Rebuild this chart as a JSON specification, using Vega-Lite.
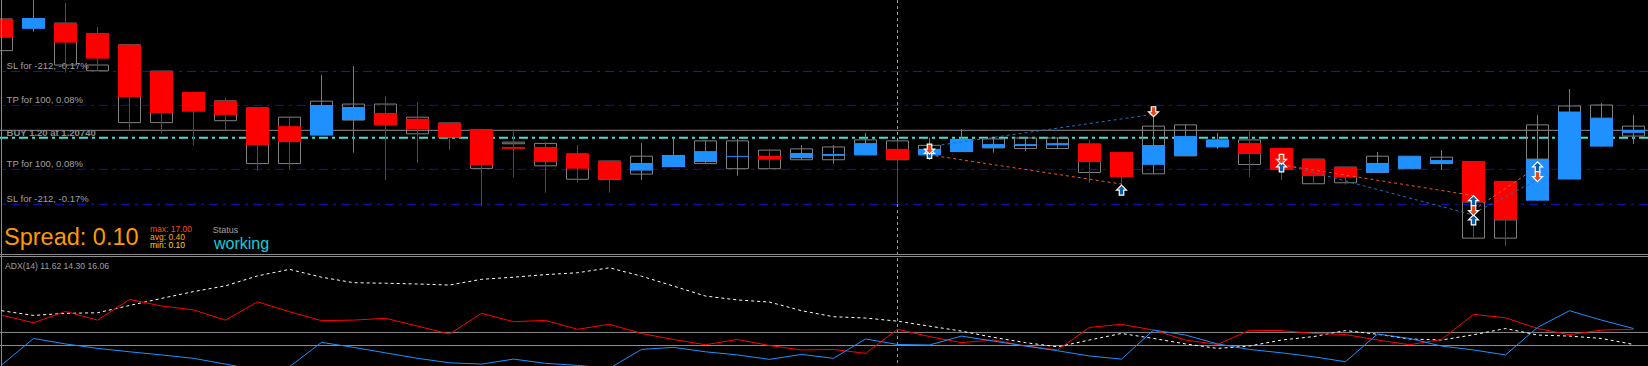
{
"$schema": "https://vega.github.io/schema/vega-lite/v6.json",
"width": 1648, "height": 366, "padding": 0,
"autosize": {"type": "none"},
"background": "#000000",
"config": {"view": {"stroke": null}, "axis": {"disable": true}, "scale": {"continuousPadding": 0}, "text": {"font": "Liberation Sans"}},
"datasets": {
"candles": [
{"i":0,"dir":"down","o":1.21088,"h":1.21088,"l":1.21029,"c":1.21029,"gt":1.21088,"gb":1.20989},
{"i":1,"dir":"up","o":1.21057,"h":1.21157,"l":1.21048,"c":1.21091,"gt":null,"gb":null},
{"i":2,"dir":"down","o":1.21075,"h":1.21138,"l":1.20920,"c":1.21014,"gt":1.21075,"gb":1.20944},
{"i":3,"dir":"down","o":1.21044,"h":1.21063,"l":1.20926,"c":1.20964,"gt":1.20944,"gb":1.20926},
{"i":4,"dir":"down","o":1.21007,"h":1.21007,"l":1.20741,"c":1.20844,"gt":1.21007,"gb":1.20764},
{"i":5,"dir":"down","o":1.20925,"h":1.20925,"l":1.20729,"c":1.20794,"gt":1.20925,"gb":1.20764},
{"i":6,"dir":"down","o":1.20860,"h":1.20860,"l":1.20692,"c":1.20798,"gt":null,"gb":null},
{"i":7,"dir":"down","o":1.20832,"h":1.20841,"l":1.20741,"c":1.20788,"gt":1.20832,"gb":1.20770},
{"i":8,"dir":"down","o":1.20810,"h":1.20810,"l":1.20614,"c":1.20694,"gt":1.20810,"gb":1.20636},
{"i":9,"dir":"down","o":1.20753,"h":1.20781,"l":1.20619,"c":1.20703,"gt":1.20781,"gb":1.20636},
{"i":10,"dir":"up","o":1.20725,"h":1.20913,"l":1.20725,"c":1.20819,"gt":1.20831,"gb":1.20725},
{"i":11,"dir":"up","o":1.20772,"h":1.20941,"l":1.20670,"c":1.20813,"gt":1.20822,"gb":1.20772},
{"i":12,"dir":"down","o":1.20794,"h":1.20847,"l":1.20585,"c":1.20757,"gt":1.20822,"gb":1.20757},
{"i":13,"dir":"down","o":1.20776,"h":1.20828,"l":1.20638,"c":1.20743,"gt":1.20781,"gb":1.20729},
{"i":14,"dir":"down","o":1.20763,"h":1.20763,"l":1.20679,"c":1.20718,"gt":1.20763,"gb":1.20718},
{"i":15,"dir":"down","o":1.20741,"h":1.20741,"l":1.20504,"c":1.20631,"gt":1.20741,"gb":1.20621},
{"i":16,"dir":"down","o":1.20688,"h":1.20744,"l":1.20592,"c":1.20682,"gt":1.20703,"gb":1.20698},
{"i":17,"dir":"down","o":1.20688,"h":1.20703,"l":1.20545,"c":1.20641,"gt":1.20699,"gb":1.20629},
{"i":18,"dir":"down","o":1.20666,"h":1.20694,"l":1.20576,"c":1.20620,"gt":1.20666,"gb":1.20587},
{"i":19,"dir":"down","o":1.20644,"h":1.20644,"l":1.20545,"c":1.20587,"gt":1.20644,"gb":1.20587},
{"i":20,"dir":"up","o":1.20614,"h":1.20700,"l":1.20585,"c":1.20638,"gt":1.20659,"gb":1.20603},
{"i":21,"dir":"up","o":1.20625,"h":1.20717,"l":1.20625,"c":1.20663,"gt":null,"gb":null},
{"i":22,"dir":"up","o":1.20641,"h":1.20707,"l":1.20638,"c":1.20675,"gt":1.20707,"gb":1.20636},
{"i":23,"dir":"up","o":1.20657,"h":1.20713,"l":1.20598,"c":1.20660,"gt":1.20707,"gb":1.20620},
{"i":24,"dir":"down","o":1.20660,"h":1.20682,"l":1.20620,"c":1.20648,"gt":1.20678,"gb":1.20620},
{"i":25,"dir":"up","o":1.20653,"h":1.20694,"l":1.20649,"c":1.20669,"gt":1.20682,"gb":1.20648},
{"i":26,"dir":"up","o":1.20660,"h":1.20694,"l":1.20636,"c":1.20666,"gt":1.20688,"gb":1.20648},
{"i":27,"dir":"up","o":1.20663,"h":1.20732,"l":1.20663,"c":1.20700,"gt":1.20710,"gb":1.20663},
{"i":28,"dir":"down","o":1.20682,"h":1.20707,"l":1.20512,"c":1.20648,"gt":1.20707,"gb":1.20648},
{"i":29,"dir":"up","o":1.20663,"h":1.20717,"l":1.20647,"c":1.20682,"gt":1.20693,"gb":1.20663},
{"i":30,"dir":"up","o":1.20672,"h":1.20744,"l":1.20672,"c":1.20713,"gt":null,"gb":null},
{"i":31,"dir":"up","o":1.20685,"h":1.20716,"l":1.20670,"c":1.20697,"gt":1.20713,"gb":1.20685},
{"i":32,"dir":"up","o":1.20691,"h":1.20716,"l":1.20676,"c":1.20697,"gt":1.20716,"gb":1.20683},
{"i":33,"dir":"up","o":1.20693,"h":1.20718,"l":1.20683,"c":1.20700,"gt":1.20716,"gb":1.20683},
{"i":34,"dir":"down","o":1.20697,"h":1.20710,"l":1.20576,"c":1.20641,"gt":1.20697,"gb":1.20608},
{"i":35,"dir":"down","o":1.20672,"h":1.20672,"l":1.20564,"c":1.20594,"gt":null,"gb":null},
{"i":36,"dir":"up","o":1.20632,"h":1.20785,"l":1.20604,"c":1.20694,"gt":1.20753,"gb":1.20604},
{"i":37,"dir":"up","o":1.20660,"h":1.20757,"l":1.20660,"c":1.20722,"gt":1.20757,"gb":1.20660},
{"i":38,"dir":"up","o":1.20688,"h":1.20732,"l":1.20682,"c":1.20710,"gt":1.20710,"gb":1.20688},
{"i":39,"dir":"down","o":1.20700,"h":1.20741,"l":1.20594,"c":1.20666,"gt":1.20710,"gb":1.20633},
{"i":40,"dir":"down","o":1.20685,"h":1.20685,"l":1.20585,"c":1.20616,"gt":null,"gb":null},
{"i":41,"dir":"down","o":1.20650,"h":1.20650,"l":1.20573,"c":1.20597,"gt":1.20650,"gb":1.20573},
{"i":42,"dir":"down","o":1.20625,"h":1.20625,"l":1.20570,"c":1.20592,"gt":1.20625,"gb":1.20576},
{"i":43,"dir":"up","o":1.20608,"h":1.20672,"l":1.20608,"c":1.20638,"gt":1.20659,"gb":1.20608},
{"i":44,"dir":"up","o":1.20620,"h":1.20659,"l":1.20620,"c":1.20659,"gt":1.20659,"gb":1.20620},
{"i":45,"dir":"up","o":1.20636,"h":1.20678,"l":1.20616,"c":1.20647,"gt":1.20656,"gb":1.20636},
{"i":46,"dir":"down","o":1.20644,"h":1.20644,"l":1.20403,"c":1.20516,"gt":1.20516,"gb":1.20403},
{"i":47,"dir":"down","o":1.20582,"h":1.20582,"l":1.20379,"c":1.20460,"gt":1.20460,"gb":1.20403},
{"i":48,"dir":"up","o":1.20520,"h":1.20788,"l":1.20520,"c":1.20650,"gt":1.20757,"gb":1.20650},
{"i":49,"dir":"up","o":1.20586,"h":1.20869,"l":1.20586,"c":1.20797,"gt":1.20816,"gb":1.20797},
{"i":50,"dir":"up","o":1.20689,"h":1.20825,"l":1.20689,"c":1.20778,"gt":1.20819,"gb":1.20778},
{"i":51,"dir":"up","o":1.20732,"h":1.20788,"l":1.20697,"c":1.20741,"gt":1.20753,"gb":1.20722}
],
"adx": [
{"i":0,"w":23.3,"r":21.6,"b":2.5},{"i":1,"w":21.5,"r":18.7,"b":12.7},{"i":2,"w":22.3,"r":23.0,"b":10.6},
{"i":3,"w":22.5,"r":19.7,"b":8.9},{"i":4,"w":25.3,"r":27.6,"b":7.6},{"i":5,"w":28.0,"r":25.1,"b":6.4},
{"i":6,"w":30.6,"r":23.6,"b":5.1},{"i":7,"w":32.8,"r":19.7,"b":2.9},{"i":8,"w":36.6,"r":26.7,"b":0.6},
{"i":9,"w":39.1,"r":22.9,"b":1.9},{"i":10,"w":36.1,"r":19.5,"b":11.2},{"i":11,"w":34.0,"r":19.7,"b":9.3},
{"i":12,"w":33.8,"r":20.4,"b":7.2},{"i":13,"w":33.5,"r":17.4,"b":5.1},{"i":14,"w":33.1,"r":14.4,"b":3.4},
{"i":15,"w":35.3,"r":22.3,"b":2.9},{"i":16,"w":36.1,"r":19.1,"b":4.8},{"i":17,"w":37.1,"r":19.6,"b":3.2},
{"i":18,"w":37.8,"r":16.2,"b":2.4},{"i":19,"w":39.7,"r":18.1,"b":1.3},{"i":20,"w":36.5,"r":14.6,"b":8.5},
{"i":21,"w":32.7,"r":12.3,"b":9.3},{"i":22,"w":28.9,"r":10.3,"b":7.6},{"i":23,"w":27.4,"r":12.3,"b":6.4},
{"i":24,"w":26.6,"r":10.0,"b":4.7},{"i":25,"w":23.3,"r":8.3,"b":6.6},{"i":26,"w":21.0,"r":8.5,"b":5.1},
{"i":27,"w":20.5,"r":7.0,"b":12.5},{"i":28,"w":19.3,"r":16.2,"b":10.4},{"i":29,"w":17.4,"r":13.4,"b":10.2},
{"i":30,"w":15.5,"r":11.1,"b":13.6},{"i":31,"w":13.1,"r":12.1,"b":11.7},{"i":32,"w":11.1,"r":9.8,"b":9.8},
{"i":33,"w":9.5,"r":8.3,"b":8.0},{"i":34,"w":12.1,"r":16.9,"b":6.0},{"i":35,"w":14.6,"r":18.1,"b":4.8},
{"i":36,"w":12.7,"r":15.9,"b":15.9},{"i":37,"w":10.6,"r":12.1,"b":14.0},{"i":38,"w":8.9,"r":10.4,"b":10.6},
{"i":39,"w":9.8,"r":15.8,"b":8.5},{"i":40,"w":12.1,"r":15.7,"b":7.2},{"i":41,"w":13.4,"r":14.6,"b":5.7},
{"i":42,"w":15.7,"r":14.2,"b":3.8},{"i":43,"w":14.3,"r":12.1,"b":14.4},{"i":44,"w":12.5,"r":10.3,"b":12.7},
{"i":45,"w":12.1,"r":12.3,"b":9.8},{"i":46,"w":14.1,"r":21.9,"b":8.3},{"i":47,"w":16.5,"r":20.6,"b":6.4},
{"i":48,"w":14.0,"r":16.5,"b":16.9},{"i":49,"w":13.6,"r":14.1,"b":23.3},{"i":50,"w":12.7,"r":15.9,"b":19.7},
{"i":51,"w":10.4,"r":16.2,"b":16.5}
],
"levels": [
{"p":1.20924,"kind":"SL","label":"SL for -212, -0.17%"},
{"p":1.20818,"kind":"TP","label":"TP for 100, 0.08%"},
{"p":1.20740,"kind":"BUY","label":"BUY 1.20 at 1.20740"},
{"p":1.20717,"kind":"BID","label":""},
{"p":1.20618,"kind":"TP","label":"TP for 100, 0.08%"},
{"p":1.20509,"kind":"SL","label":"SL for -212, -0.17%"}
],
"arrows": [
{"i":29,"p":1.20668,"kind":"buy"},{"i":29,"p":1.20681,"kind":"sell"},
{"i":36,"p":1.20798,"kind":"sell"},{"i":35,"p":1.20553,"kind":"buy"},
{"i":40,"p":1.20649,"kind":"sell"},{"i":40,"p":1.20626,"kind":"buy"},
{"i":46,"p":1.20520,"kind":"buy"},{"i":46,"p":1.20489,"kind":"sell"},{"i":46,"p":1.20460,"kind":"buy"},
{"i":48,"p":1.20626,"kind":"buy"},{"i":48,"p":1.20595,"kind":"sell"}
],
"trades": [
{"id":"b1","kind":"buy","i":29,"p":1.20689},{"id":"b1","kind":"buy","i":36,"p":1.20790},
{"id":"b2","kind":"buy","i":40,"p":1.20635},{"id":"b2","kind":"buy","i":46,"p":1.20475},
{"id":"b3","kind":"buy","i":46,"p":1.20481},{"id":"b3","kind":"buy","i":48,"p":1.20585},
{"id":"r1","kind":"sell","i":29,"p":1.20663},{"id":"r1","kind":"sell","i":35,"p":1.20572},
{"id":"r2","kind":"sell","i":40,"p":1.20632},{"id":"r2","kind":"sell","i":46,"p":1.20536},
{"id":"r3","kind":"sell","i":46,"p":1.20491},{"id":"r3","kind":"sell","i":48,"p":1.20626}
]
},
"layer": [
{"layer": [
 {"data":{"name":"levels"},"transform":[{"filter":"datum.kind==='SL'"}],
  "mark":{"type":"rule","color":"#1212f2","strokeWidth":1,"strokeDash":[9,5,3,5]},
  "encoding":{"y":{"field":"p","type":"quantitative","scale":{"domain":[1.2035,1.2115],"range":[255.1,-0.9],"nice":false,"zero":false,"padding":0},"axis":null}}},
 {"data":{"name":"levels"},"transform":[{"filter":"datum.kind==='TP'"}],
  "mark":{"type":"rule","color":"#0e0ed0","strokeWidth":1,"strokeDash":[9,5,3,5]},
  "encoding":{"y":{"field":"p","type":"quantitative"}}},
 {"data":{"name":"levels"},"transform":[{"filter":"datum.kind==='BUY'"}],
  "mark":{"type":"rule","color":"#8c8c8c","strokeWidth":1},
  "encoding":{"y":{"field":"p","type":"quantitative"}}},
 {"data":{"name":"levels"},"transform":[{"filter":"datum.kind==='BID'"}],
  "mark":{"type":"rule","color":"#40e0d0","strokeWidth":2,"strokeDash":[9,4,3,4]},
  "encoding":{"y":{"field":"p","type":"quantitative"}}},
 {"data":{"name":"levels"},"transform":[{"filter":"datum.kind==='SL' || datum.kind==='TP'"}],
  "mark":{"type":"text","align":"left","baseline":"alphabetic","dy":-2,"fontSize":9.5,"color":"#a0a0a0"},
  "encoding":{"x":{"datum":0.16,"type":"quantitative","scale":{"domain":[-0.046875,51.453125],"nice":false,"zero":false,"padding":0},"axis":null},
   "y":{"field":"p","type":"quantitative"},
   "text":{"field":"label"}}},
 {"data":{"name":"levels"},"transform":[{"filter":"datum.kind==='BUY'"}],
  "mark":{"type":"text","align":"left","baseline":"alphabetic","dy":5.5,"fontSize":9.5,"fontWeight":"bold","color":"#8a8a8a"},
  "encoding":{"x":{"datum":0.16,"type":"quantitative"},
   "y":{"field":"p","type":"quantitative"},
   "text":{"field":"label"}}},
 {"data":{"values":[{}]},
  "mark":{"type":"rule","color":"#9a9a9a","strokeWidth":1,"strokeDash":[3,3]},
  "encoding":{"x":{"datum":28,"type":"quantitative"}}},
 {"data":{"values":[{}]},
  "mark":{"type":"text","text":"Spread: 0.10","align":"left","baseline":"alphabetic","fontSize":23.5,"color":"#ff9900"},
  "encoding":{"x":{"datum":0.078,"type":"quantitative"},"y":{"datum":1.20381,"type":"quantitative"}}},
 {"data":{"values":[{}]},
  "mark":{"type":"text","text":"max: 17.00","align":"left","baseline":"alphabetic","fontSize":8.5,"color":"#ff4a00"},
  "encoding":{"x":{"datum":4.64,"type":"quantitative"},"y":{"datum":1.20421,"type":"quantitative"}}},
 {"data":{"values":[{}]},
  "mark":{"type":"text","text":"avg:  0.40","align":"left","baseline":"alphabetic","fontSize":8.5,"color":"#ffa500"},
  "encoding":{"x":{"datum":4.64,"type":"quantitative"},"y":{"datum":1.20396,"type":"quantitative"}}},
 {"data":{"values":[{}]},
  "mark":{"type":"text","text":"min:  0.10","align":"left","baseline":"alphabetic","fontSize":8.5,"color":"#ffd700"},
  "encoding":{"x":{"datum":4.64,"type":"quantitative"},"y":{"datum":1.20371,"type":"quantitative"}}},
 {"data":{"values":[{}]},
  "mark":{"type":"text","text":"Status","align":"left","baseline":"alphabetic","fontSize":9,"color":"#a0a0a0"},
  "encoding":{"x":{"datum":6.6,"type":"quantitative"},"y":{"datum":1.20419,"type":"quantitative"}}},
 {"data":{"values":[{}]},
  "mark":{"type":"text","text":"working","align":"left","baseline":"alphabetic","fontSize":16,"color":"#12cedc"},
  "encoding":{"x":{"datum":6.64,"type":"quantitative"},"y":{"datum":1.20369,"type":"quantitative"}}},
 {"data":{"name":"candles"},
  "mark":{"type":"bar","filled":false,"color":"#808080","strokeWidth":1,"size":22},
  "encoding":{"x":{"field":"i","type":"quantitative"},"y":{"field":"gt","type":"quantitative"},"y2":{"field":"gb"}}},
 {"data":{"name":"candles"},
  "mark":{"type":"rule","strokeWidth":1},
  "encoding":{"x":{"field":"i","type":"quantitative"},"y":{"field":"h","type":"quantitative"},"y2":{"field":"l"},
   "color":{"field":"dir","type":"nominal","scale":{"domain":["up","down"],"range":["#1e90ff","#ff0000"]},"legend":null}}},
 {"data":{"name":"candles"},
  "mark":{"type":"bar","size":23},
  "encoding":{"x":{"field":"i","type":"quantitative"},"y":{"field":"o","type":"quantitative"},"y2":{"field":"c"},
   "color":{"field":"dir","type":"nominal","legend":null}}},
 {"data":{"values":[{}]},
  "mark":{"type":"rule","color":"#8c8c8c","strokeWidth":1},
  "encoding":{"x":{"datum":0,"type":"quantitative"}}},
 {"data":{"name":"trades"},"transform":[{"filter":"datum.kind==='buy'"}],
  "mark":{"type":"line","color":"#1f6fc4","strokeWidth":1,"strokeDash":[3,3]},
  "encoding":{"x":{"field":"i","type":"quantitative"},"y":{"field":"p","type":"quantitative"},"detail":{"field":"id"}}},
 {"data":{"name":"trades"},"transform":[{"filter":"datum.kind==='sell'"}],
  "mark":{"type":"line","color":"#ee5528","strokeWidth":1,"strokeDash":[3,3]},
  "encoding":{"x":{"field":"i","type":"quantitative"},"y":{"field":"p","type":"quantitative"},"detail":{"field":"id"}}},
 {"data":{"name":"arrows"},"transform":[{"filter":"datum.kind==='buy'"}],
  "mark":{"type":"point","shape":"M0,-1L1,0L0.45,0L0.45,1L-0.45,1L-0.45,0L-1,0Z","size":100,"filled":true,"fill":"#0b5cab","stroke":"#ffffff","strokeWidth":1.2,"opacity":1},
  "encoding":{"x":{"field":"i","type":"quantitative"},"y":{"field":"p","type":"quantitative"}}},
 {"data":{"name":"arrows"},"transform":[{"filter":"datum.kind==='sell'"}],
  "mark":{"type":"point","shape":"M0,1L1,0L0.45,0L0.45,-1L-0.45,-1L-0.45,0L-1,0Z","size":100,"filled":true,"fill":"#e8441c","stroke":"#ffffff","strokeWidth":1.2,"opacity":1},
  "encoding":{"x":{"field":"i","type":"quantitative"},"y":{"field":"p","type":"quantitative"}}}
]},
{"layer": [
 {"data":{"values":[{}]},
  "mark":{"type":"rule","color":"#8c8c8c","strokeWidth":1},
  "encoding":{"y":{"datum":44.78,"type":"quantitative","scale":{"domain":[5,45],"range":[358.59,253.92],"nice":false,"zero":false,"padding":0},"axis":null}}},
 {"data":{"values":[{}]},
  "mark":{"type":"rule","color":"#8c8c8c","strokeWidth":1},
  "encoding":{"y":{"datum":44.01,"type":"quantitative"}}},
 {"data":{"values":[{}]},
  "mark":{"type":"rule","color":"#8c8c8c","strokeWidth":1},
  "encoding":{"y":{"datum":15,"type":"quantitative"}}},
 {"data":{"values":[{}]},
  "mark":{"type":"rule","color":"#8c8c8c","strokeWidth":1},
  "encoding":{"y":{"datum":10,"type":"quantitative"}}},
 {"data":{"name":"adx"},
  "mark":{"type":"line","color":"#ffffff","strokeWidth":1,"strokeDash":[3,3]},
  "encoding":{"x":{"field":"i","type":"quantitative"},"y":{"field":"w","type":"quantitative"}}},
 {"data":{"name":"adx"},
  "mark":{"type":"line","color":"#ff0000","strokeWidth":1},
  "encoding":{"x":{"field":"i","type":"quantitative"},"y":{"field":"r","type":"quantitative"}}},
 {"data":{"name":"adx"},
  "mark":{"type":"line","color":"#1e90ff","strokeWidth":1},
  "encoding":{"x":{"field":"i","type":"quantitative"},"y":{"field":"b","type":"quantitative"}}},
 {"data":{"values":[{}]},
  "mark":{"type":"text","text":"ADX(14) 11.62 14.30 16.06","align":"left","baseline":"alphabetic","fontSize":8.6,"color":"#a0a0a0"},
  "encoding":{"x":{"datum":0.109,"type":"quantitative"},"y":{"datum":39.24,"type":"quantitative"}}}
]}
],
"resolve": {"scale": {"y": "independent"}}
}
